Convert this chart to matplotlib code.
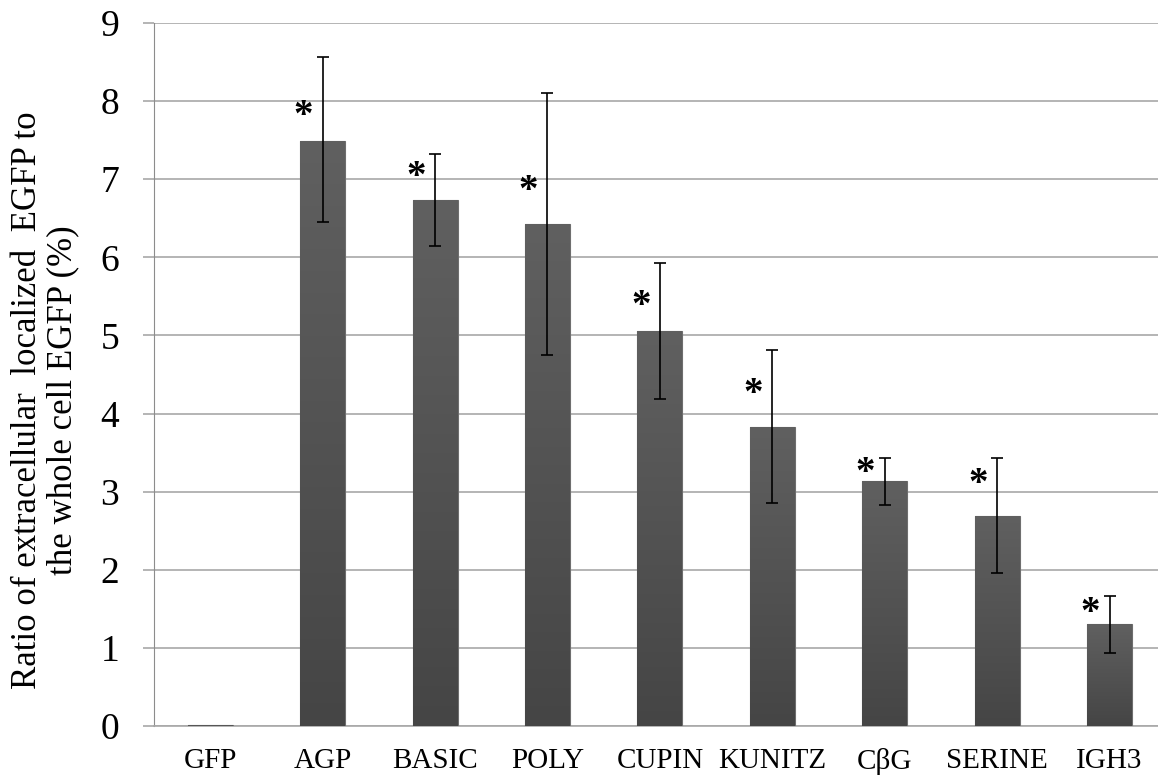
import numpy as np
import matplotlib
matplotlib.use('Agg')
import matplotlib.pyplot as plt
from matplotlib.colors import LinearSegmentedColormap

plt.rcParams['font.family'] = ['Liberation Serif', 'DejaVu Serif']

# values
labels = ['GFP', 'AGP', 'BASIC', 'POLY', 'CUPIN', 'KUNITZ', 'C\u03b2G', 'SERINE', 'IGH3']
ratio = [0.01, 7.49, 6.73, 6.43, 5.06, 3.83, 3.14, 2.69, 1.30]
err_top = [0.01, 8.56, 7.32, 8.11, 5.93, 4.82, 3.43, 3.43, 1.67]
err_bot = [0.01, 6.45, 6.15, 4.75, 4.19, 2.85, 2.83, 1.96, 0.93]
star_y = [None, 7.91, 7.12, 6.94, 5.47, 4.35, 3.33, 3.19, 1.54]

ratio = np.array(ratio)
yerr = np.array([ratio - np.array(err_bot), np.array(err_top) - ratio])
x = np.arange(len(labels))

fig = plt.figure(figsize=(11.58, 7.78), dpi=100)
ax = fig.add_axes([154/1158, 52/778, 1011.75/1158, 703/778])

bars = ax.bar(x, ratio, width=0.4, color='#555555', edgecolor='#6e6e6e',
              linewidth=0.8, zorder=3)

# vertical grey gradient inside each bar (lighter at top)
grad = np.linspace(0, 1, 256).reshape(-1, 1)
cm = LinearSegmentedColormap.from_list('g', ['#454545', '#606060'])
for b in bars:
    x0, w, h = b.get_x(), b.get_width(), b.get_height()
    im = ax.imshow(grad, cmap=cm, aspect='auto', origin='lower',
                   extent=[x0, x0 + w, 0, h], zorder=3.5)
    im.set_clip_path(b)

# error bars (GFP has none)
ax.errorbar(x[1:], ratio[1:], yerr=yerr[:, 1:], fmt='none', ecolor='black',
            elinewidth=1.2, capsize=4.5, capthick=1.2, zorder=5)

for xi, sy in zip(x, star_y):
    if sy is not None:
        ax.annotate('*', (xi - 0.17, sy), xytext=(0, -8),
                    textcoords='offset pixels', fontsize=28,
                    fontweight='bold', ha='center', va='center', zorder=6)

ax.set_xlim(-0.5, len(labels) - 0.5)
ax.set_ylim(0, 9)
ax.set_yticks(range(10))
ax.set_xticks(x)
ax.set_xticklabels(labels)
ax.yaxis.grid(True, color='#a8a8a8', linewidth=1.2, zorder=0)
ax.set_axisbelow(True)
for s in ['top', 'right']:
    ax.spines[s].set_visible(False)
ax.spines['left'].set_color('#8c8c8c')
ax.spines['bottom'].set_color('#a8a8a8')
ax.spines['bottom'].set_linewidth(1.2)
ax.tick_params(axis='y', length=8, color='#a8a8a8', width=1.2,
               labelsize=27, pad=17)
ax.tick_params(axis='x', length=0, labelsize=21, pad=16)

fig.text(0.039, 0.486,
         'Ratio of extracellular  localized  EGFP to\nthe whole cell EGFP (%)',
         rotation=90, ha='center', va='center', fontsize=25,
         multialignment='center', linespacing=1.1)

fig.savefig('out.png', dpi=100)
